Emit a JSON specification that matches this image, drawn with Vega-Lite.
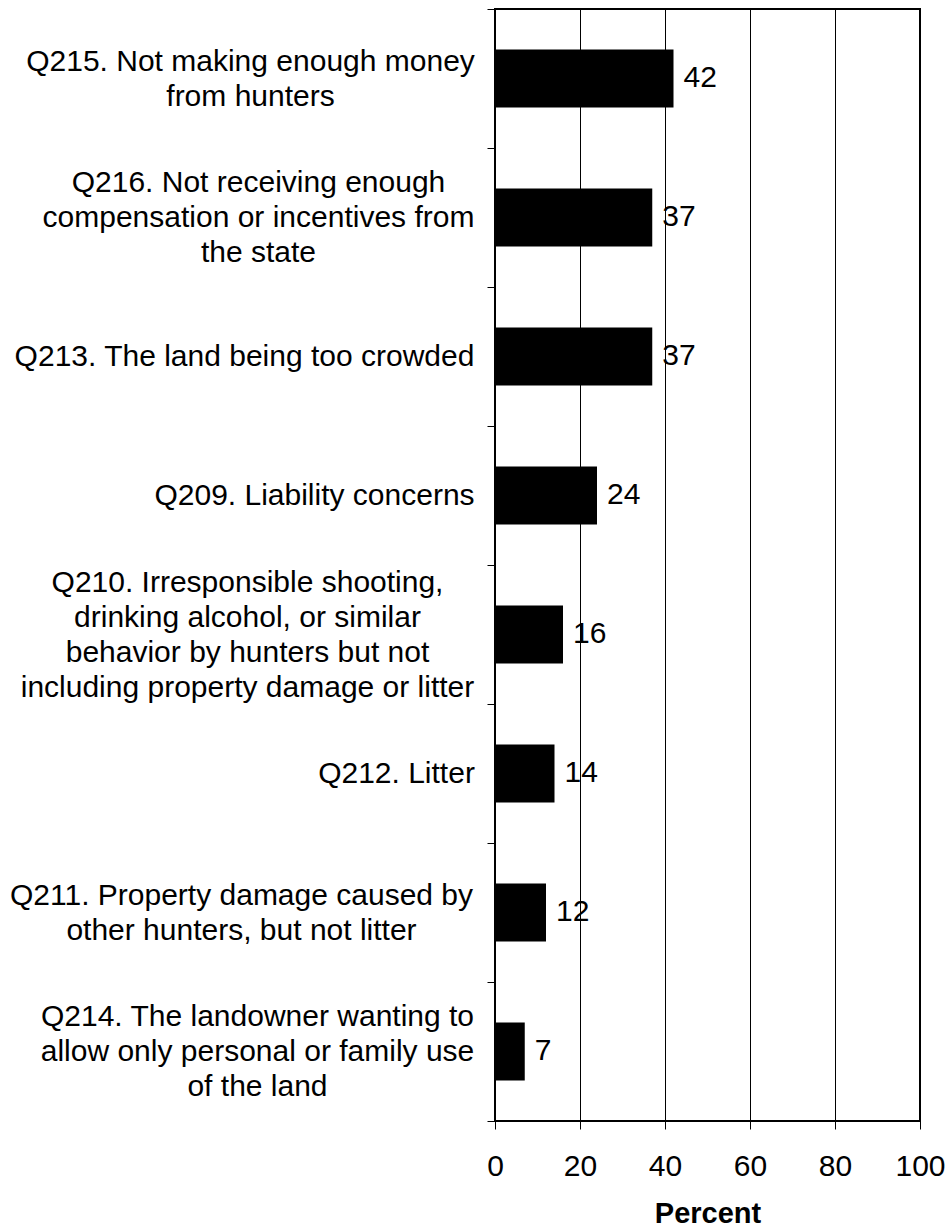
{
  "$schema": "https://vega.github.io/schema/vega-lite/v6.json",
  "autosize": {"type": "none"},
  "padding": {"left": 495, "top": 9, "right": 28, "bottom": 106},
  "width": 425,
  "height": 1112,
  "background": "white",
  "data": {
    "values": [
      {"label": "Q215. Not making enough money|from hunters", "percent": 42},
      {"label": "Q216. Not receiving enough|compensation or incentives from|the state", "percent": 37},
      {"label": "Q213. The land being too crowded", "percent": 37},
      {"label": "Q209. Liability concerns", "percent": 24},
      {"label": "Q210. Irresponsible shooting,|drinking alcohol, or similar|behavior by hunters but not|including property damage or litter", "percent": 16},
      {"label": "Q212. Litter", "percent": 14},
      {"label": "Q211. Property damage caused by|other hunters, but not litter", "percent": 12},
      {"label": "Q214. The landowner wanting to|allow only personal or family use|of the land", "percent": 7}
    ]
  },
  "encoding": {
    "y": {
      "field": "label",
      "type": "nominal",
      "sort": null,
      "scale": {"paddingInner": 0, "paddingOuter": 0},
      "axis": {
        "title": null,
        "domain": false,
        "grid": false,
        "ticks": true,
        "tickBand": "extent",
        "tickSize": 8,
        "tickColor": "black",
        "tickWidth": 1,
        "labelExpr": "isString(datum.value) ? split(datum.value, '|') : ''",
        "labelAlign": "center",
        "labelBaseline": "middle",
        "labelPadding": {"expr": "isString(datum.value) ? ({'Q215':237,'Q216':229,'Q213':243,'Q209':173,'Q210':240,'Q212':91,'Q211':246,'Q214':230})[substring(datum.value,0,4)] : 0"},
        "labelOffset": {"expr": "isString(datum.value) ? -(length(split(datum.value,'|')) - 1) * 17.5 : 0"},
        "labelFont": "Liberation Sans, Arial, sans-serif",
        "labelFontSize": 30,
        "labelLineHeight": 35,
        "labelColor": "black",
        "labelLimit": 0
      }
    },
    "x": {
      "field": "percent",
      "type": "quantitative",
      "scale": {"domain": [0, 100], "nice": false},
      "axis": {
        "title": "Percent",
        "values": [0, 20, 40, 60, 80, 100],
        "domain": false,
        "grid": true,
        "gridColor": "black",
        "gridWidth": 1,
        "gridOpacity": 1,
        "tickSize": 8,
        "tickColor": "black",
        "tickWidth": 1,
        "labelFont": "Liberation Sans, Arial, sans-serif",
        "labelFontSize": 30,
        "labelColor": "black",
        "labelPadding": 22,
        "labelFlush": false,
        "titleFont": "Liberation Sans, Arial, sans-serif",
        "titleFontSize": 29,
        "titleFontWeight": "bold",
        "titleColor": "black",
        "titlePadding": 18
      }
    }
  },
  "layer": [
    {"mark": {"type": "bar", "color": "black", "height": {"band": 0.417}}},
    {
      "mark": {
        "type": "text",
        "align": "left",
        "baseline": "middle",
        "dx": 10,
        "dy": -1,
        "font": "Liberation Sans, Arial, sans-serif",
        "fontSize": 30,
        "color": "black"
      },
      "encoding": {"text": {"field": "percent", "type": "quantitative"}}
    }
  ],
  "config": {
    "view": {"stroke": "black", "strokeWidth": 2}
  }
}
